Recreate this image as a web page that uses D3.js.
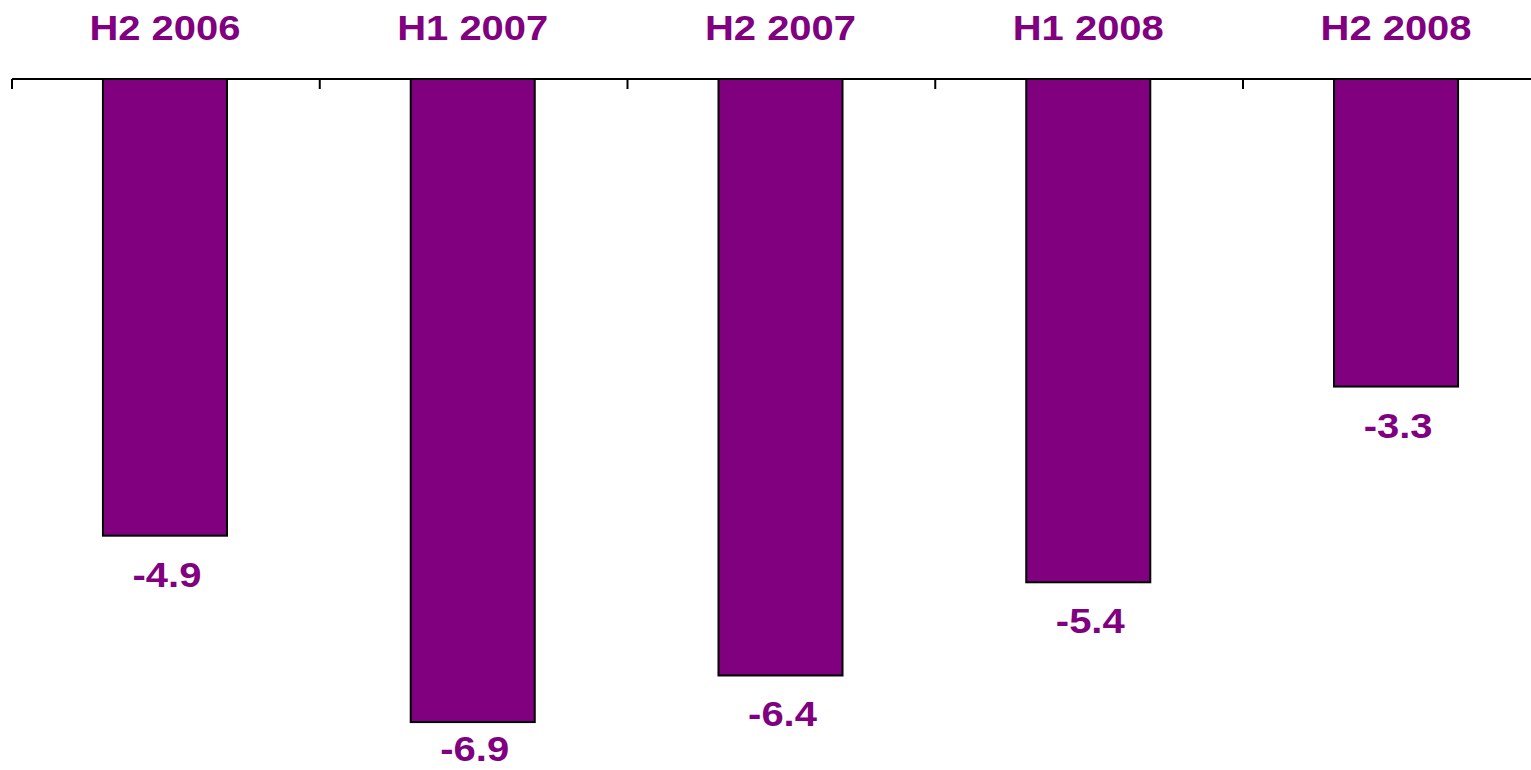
<!DOCTYPE html>
<html>
<head>
<meta charset="utf-8">
<script src="https://cdn.jsdelivr.net/npm/d3@7"></script>
<style>
  html, body { margin: 0; padding: 0; background: #ffffff; }
  svg { display: block; }
  text { font-family: Arial, "Liberation Sans", sans-serif; font-weight: bold; fill: #800080; }
</style>
</head>
<body>
<svg id="chart" width="1531" height="770"></svg>
<script>
// Half-year periods and their values
const periods = ["H2 2006", "H1 2007", "H2 2007", "H1 2008", "H2 2008"];
const values = [-4.9, -6.9, -6.4, -5.4, -3.3];
const valueLabels = ["-4.9", "-6.9", "-6.4", "-5.4", "-3.3"];

const svg = d3.select("#chart");
const W = 1531, H = 770;
const purple = "#800080";
const fontSize = 36, stretch = 1.11;

const x = d3.scaleBand()
  .domain(periods)
  .range([12, 1549])
  .paddingInner(0.597)
  .paddingOuter(0.2955);

const y = d3.scaleLinear()
  .domain([0, -7])
  .range([79, 731.4]);

// Bars hang down from the zero line
svg.append("g")
  .selectAll("rect")
  .data(values)
  .join("rect")
  .attr("x", (d, i) => x(periods[i]))
  .attr("y", y(0))
  .attr("width", x.bandwidth())
  .attr("height", d => y(d) - y(0))
  .attr("fill", purple)
  .attr("stroke", "#000")
  .attr("stroke-width", 2);

// Zero axis with tick marks between categories
const tickStep = 307.75;
const axisG = svg.append("g");
axisG.append("line")
  .attr("x1", 12).attr("x2", W)
  .attr("y1", y(0)).attr("y2", y(0))
  .attr("stroke", "#000").attr("stroke-width", 2);
axisG.selectAll("line.tick")
  .data(d3.range(periods.length + 1))
  .join("line")
  .attr("class", "tick")
  .attr("x1", i => 12 + i * tickStep).attr("x2", i => 12 + i * tickStep)
  .attr("y1", y(0)).attr("y2", y(0) + 10)
  .attr("stroke", "#000").attr("stroke-width", 2);

// Category labels along the top
svg.append("g")
  .selectAll("text")
  .data(periods)
  .join("text")
  .attr("transform", d => `translate(${x(d) + x.bandwidth() / 2},40) scale(${stretch},1)`)
  .attr("text-anchor", "middle")
  .style("font-size", fontSize + "px")
  .text(d => d);

// Value labels beneath each bar, kept inside the bottom edge
svg.append("g")
  .selectAll("text")
  .data(values)
  .join("text")
  .attr("transform", (d, i) => {
    const by = Math.min(y(d) + 51, 761);
    return `translate(${x(periods[i]) + x.bandwidth() / 2 + 2},${by}) scale(${stretch},1)`;
  })
  .attr("text-anchor", "middle")
  .style("font-size", fontSize + "px")
  .text((d, i) => valueLabels[i]);
</script>
</body>
</html>
